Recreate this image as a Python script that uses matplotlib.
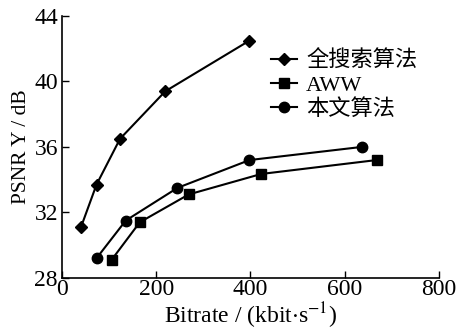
import matplotlib
matplotlib.use("Agg")
import matplotlib.pyplot as plt

plt.rcParams["font.family"] = ["Liberation Serif", "Noto Sans CJK SC"]
plt.rcParams["mathtext.fontset"] = "stix"

# Full search (diamonds)
full_x = [40, 73, 123, 219, 398]
full_y = [31.1, 33.7, 36.5, 39.4, 42.5]
# AWW (squares)
aww_x = [105, 165, 269, 423, 668]
aww_y = [29.1, 31.4, 33.1, 34.35, 35.2]
# proposed algorithm (circles)
ours_x = [73, 135, 245, 398, 636]
ours_y = [29.2, 31.5, 33.5, 35.2, 36.0]

labels = ["全搜索算法", "AWW", "本文算法"]
xticks = [0, 200, 400, 600, 800]
yticks = [28, 32, 36, 40, 44]

fig = plt.figure(figsize=(4.57, 3.34), dpi=100)
ax = fig.add_axes([0.136, 0.168, 0.824, 0.784])

ax.plot(full_x, full_y, "k-", marker="D", ms=6, lw=1.5, label=labels[0])
ax.plot(aww_x, aww_y, "k-", marker="s", ms=6.5, lw=1.5, label=labels[1])
ax.plot(ours_x, ours_y, "k-", marker="o", ms=7.5, lw=1.5, label=labels[2])

ax.set_xlim(0, 800)
ax.set_ylim(28, 44)
ax.set_xticks(xticks)
ax.set_yticks(yticks)
ax.tick_params(direction="in", labelsize=17, length=5, width=1)
ax.tick_params(axis="x", pad=1)
ax.tick_params(axis="y", pad=3)
for s in ["top", "right"]:
    ax.spines[s].set_visible(False)
for s in ["left", "bottom"]:
    ax.spines[s].set_linewidth(1.2)

ax.set_xlabel("Bitrate / (kbit$\\cdot$s$^{-1}$)", fontsize=17, labelpad=0)
ax.set_ylabel("PSNR Y / dB", fontsize=15.5, labelpad=2)

ax.legend(loc="upper left", bbox_to_anchor=(0.53, 0.9), frameon=False,
          fontsize=16, handlelength=1.2, handletextpad=0.4, labelspacing=0.15,
          borderaxespad=0)

plt.savefig("out.png", dpi=100)
plt.close()
